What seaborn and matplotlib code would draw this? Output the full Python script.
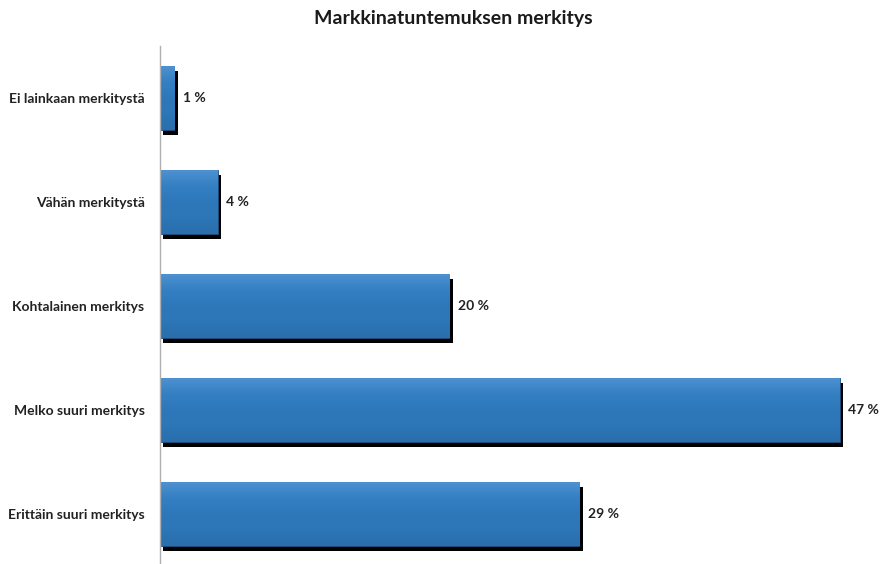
import matplotlib
matplotlib.use("Agg")
import matplotlib.pyplot as plt
import matplotlib.patheffects as pe
import numpy as np
import pandas as pd
import seaborn as sns

categories = ["Ei lainkaan merkitystä", "Vähän merkitystä", "Kohtalainen merkitys",
              "Melko suuri merkitys", "Erittäin suuri merkitys"]
values = [1, 4, 20, 47, 29]
value_labels = ["1 %", "4 %", "20 %", "47 %", "29 %"]

df = pd.DataFrame({"kategoria": categories, "osuus": values})

sns.set_style("white")
plt.rcParams["font.family"] = ["Lato", "DejaVu Sans"]

fig = plt.figure(figsize=(8.83, 5.64), dpi=100)
ax = fig.add_axes([0.181, -0.004, 0.819, 0.922])

sns.barplot(data=df, x="osuus", y="kategoria", orient="h", color="#2e78ba",
            width=0.62, saturation=1, ax=ax, edgecolor="#1d4f80", linewidth=0.6)

# slight bevel: gradient clipped to each bar, plus dark drop shadow
grad = np.linspace(0, 1, 64).reshape(-1, 1)
cmap = matplotlib.colors.LinearSegmentedColormap.from_list(
    "bevel", ["#4f92d2", "#3480c2", "#2e78ba", "#2d76b7", "#2a6eac"])
for p in ax.patches:
    p.set_path_effects([pe.SimplePatchShadow(offset=(2.5, -3.5), shadow_rgbFace="black", alpha=1.0),
                        pe.Normal()])
    x0, y0 = p.get_x(), p.get_y()
    w, h = p.get_width(), p.get_height()
    im = ax.imshow(grad, cmap=cmap, aspect="auto", extent=(x0, x0 + w, y0 + h, y0),
                   zorder=p.get_zorder() + 0.1, interpolation="bicubic")
    im.set_clip_path(p)

for i, (v, lab) in enumerate(zip(values, value_labels)):
    ax.text(v + 0.6, i, lab, va="center", ha="left", fontsize=10,
            fontweight="bold", color="#222222")

ax.set_xlim(0, 50)
ax.set_ylim(4.5, -0.5)
ax.set_xlabel("")
ax.set_ylabel("")
ax.set_xticks([])
ax.tick_params(axis="y", length=0, pad=11, labelsize=10)
for t in ax.get_yticklabels():
    t.set_fontweight("bold")
    t.set_color("#222222")
for s in ["top", "right", "bottom"]:
    ax.spines[s].set_visible(False)
ax.spines["left"].set_color("#b0b0b0")
ax.spines["left"].set_linewidth(1.0)

fig.text(0.513, 0.968, "Markkinatuntemuksen merkitys", ha="center", va="center",
         fontsize=14, fontweight="bold", color="#1a1a1a")

plt.savefig("out.png", dpi=100)
plt.close()
